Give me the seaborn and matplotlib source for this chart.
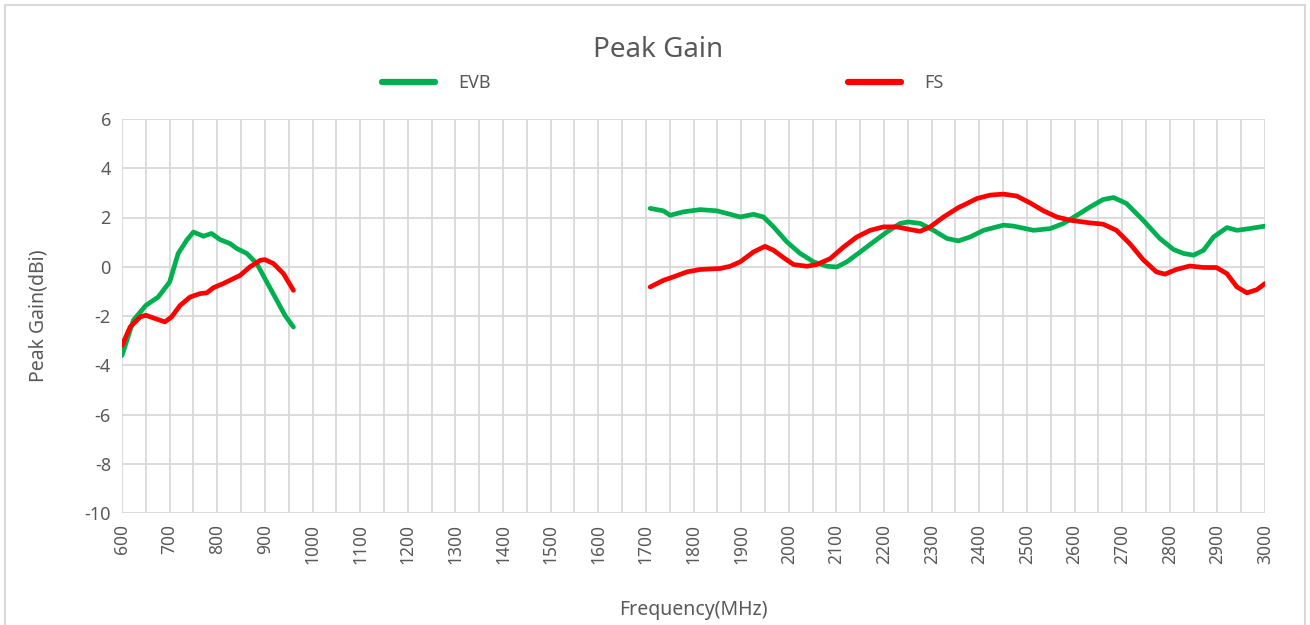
import numpy as np
import pandas as pd
import matplotlib
matplotlib.use("Agg")
import matplotlib.pyplot as plt
import seaborn as sns
from matplotlib.patches import Rectangle
from matplotlib.lines import Line2D

# ---- data ----
evb_low_f = [600, 624, 650, 676, 700, 718, 736, 750, 771, 788, 806, 827, 841, 862, 883, 904, 925, 942, 960]
evb_low_g = [-3.6, -2.17, -1.57, -1.23, -0.62, 0.54, 1.08, 1.41, 1.24, 1.35, 1.1, 0.94, 0.74, 0.54, 0.13, -0.62, -1.36, -1.97, -2.45]

fs_low_f = [600, 617, 638, 650, 669, 690, 704, 722, 743, 764, 778, 792, 813, 834, 848, 869, 890, 900, 918, 939, 960]
fs_low_g = [-3.2, -2.45, -2.04, -1.97, -2.1, -2.24, -2.04, -1.57, -1.23, -1.09, -1.06, -0.85, -0.68, -0.48, -0.35, 0.0, 0.26, 0.29, 0.13, -0.28, -0.96]

evb_high_f = [1709, 1737, 1751, 1779, 1814, 1849, 1877, 1898, 1926, 1947, 1968, 1996, 2024, 2052, 2080, 2101,
              2122, 2150, 2178, 2206, 2234, 2251, 2276, 2304, 2332, 2356, 2381, 2409, 2451, 2472, 2514, 2549,
              2577, 2605, 2633, 2660, 2682, 2709, 2744, 2779, 2808, 2829, 2850, 2871, 2892, 2920, 2941, 2968, 3000]
evb_high_g = [2.37, 2.27, 2.09, 2.23, 2.32, 2.27, 2.13, 2.02, 2.13, 2.02, 1.62, 1.01, 0.54, 0.2, 0.02, -0.01,
              0.2, 0.6, 1.01, 1.41, 1.76, 1.82, 1.76, 1.48, 1.15, 1.05, 1.21, 1.48, 1.69, 1.65, 1.48, 1.55,
              1.76, 2.09, 2.43, 2.73, 2.81, 2.57, 1.89, 1.15, 0.7, 0.54, 0.47, 0.67, 1.21, 1.59, 1.48, 1.55, 1.65]

fs_high_f = [1709, 1737, 1758, 1786, 1814, 1856, 1877, 1898, 1926, 1950, 1968, 1989, 2010, 2038, 2059, 2087,
             2115, 2143, 2171, 2199, 2227, 2255, 2276, 2297, 2325, 2356, 2367, 2395, 2423, 2451, 2479, 2507,
             2535, 2563, 2591, 2633, 2660, 2688, 2716, 2744, 2772, 2790, 2814, 2842, 2871, 2898, 2920, 2941,
             2962, 2983, 3000]
fs_high_g = [-0.82, -0.55, -0.41, -0.21, -0.11, -0.07, 0.02, 0.2, 0.6, 0.83, 0.67, 0.37, 0.09, 0.02, 0.09, 0.33,
             0.8, 1.21, 1.48, 1.62, 1.62, 1.51, 1.44, 1.62, 2.02, 2.4, 2.5, 2.77, 2.91, 2.95, 2.87, 2.59,
             2.27, 2.02, 1.89, 1.78, 1.73, 1.48, 0.94, 0.29, -0.21, -0.3, -0.11, 0.03, -0.03, -0.03, -0.28, -0.82,
             -1.06, -0.93, -0.68]

series_names = ["EVB", "FS"]
x_ticks = list(range(600, 3001, 100))
y_ticks = list(range(-10, 7, 2))

frames = []
for name, band, f, g in [("EVB", "low", evb_low_f, evb_low_g), ("EVB", "high", evb_high_f, evb_high_g),
                         ("FS", "low", fs_low_f, fs_low_g), ("FS", "high", fs_high_f, fs_high_g)]:
    frames.append(pd.DataFrame({"freq": f, "gain": g, "series": name, "band": band}))
df = pd.concat(frames, ignore_index=True)

# ---- plot ----
sns.set_theme(style="white")
plt.rcParams["font.family"] = ["Noto Sans", "DejaVu Sans"]
text_col = "#595959"

fig = plt.figure(figsize=(13.1, 6.25), dpi=100)
ax = fig.add_axes([122 / 1310, 1 - 513 / 625, (1265 - 122) / 1310, (513 - 119) / 625])

sns.lineplot(data=df, x="freq", y="gain", hue="series", units="band", estimator=None,
             palette={"EVB": "#00B050", "FS": "#FF0000"}, hue_order=series_names,
             linewidth=3.4, ax=ax, legend=False, sort=True)

ax.set_xlim(600, 3000)
ax.set_ylim(-10, 6)
ax.set_xticks(x_ticks)
ax.set_xticks(list(range(650, 3000, 100)), minor=True)
ax.set_xticklabels([str(t) for t in x_ticks], rotation=90, fontsize=12.5, color=text_col)
ax.set_yticks(y_ticks)
ax.set_yticklabels([str(t) for t in y_ticks], fontsize=13, color=text_col)
ax.tick_params(axis="both", which="both", length=0, pad=8)
ax.grid(True, which="both", color="#d9d9d9", linewidth=1.3)
ax.set_axisbelow(True)
for s in ax.spines.values():
    s.set_visible(False)

ax.set_xlabel("Frequency(MHz)", fontsize=14, color=text_col, labelpad=26)
ax.set_ylabel("Peak Gain(dBi)", fontsize=14, color=text_col, labelpad=26)

fig.text(658 / 1310, 1 - 50 / 625, "Peak Gain", ha="center", va="center", fontsize=20, color=text_col)

handles = [Line2D([0], [0], color="#00B050", lw=4.5), Line2D([0], [0], color="#FF0000", lw=4.5)]
fig.legend(handles, series_names, loc="center", bbox_to_anchor=(663 / 1310, 1 - 83 / 625), ncol=2,
           frameon=False, fontsize=13, handlelength=2.9, columnspacing=19.8, handletextpad=1.3,
           labelcolor=text_col)

fig.patches.append(Rectangle((5 / 1310, -0.05), 1300 / 1310, 1.05 - 5 / 625, transform=fig.transFigure,
                             fill=False, edgecolor="#d9d9d9", linewidth=1.5))

fig.savefig("out.png", dpi=100, facecolor="white")
